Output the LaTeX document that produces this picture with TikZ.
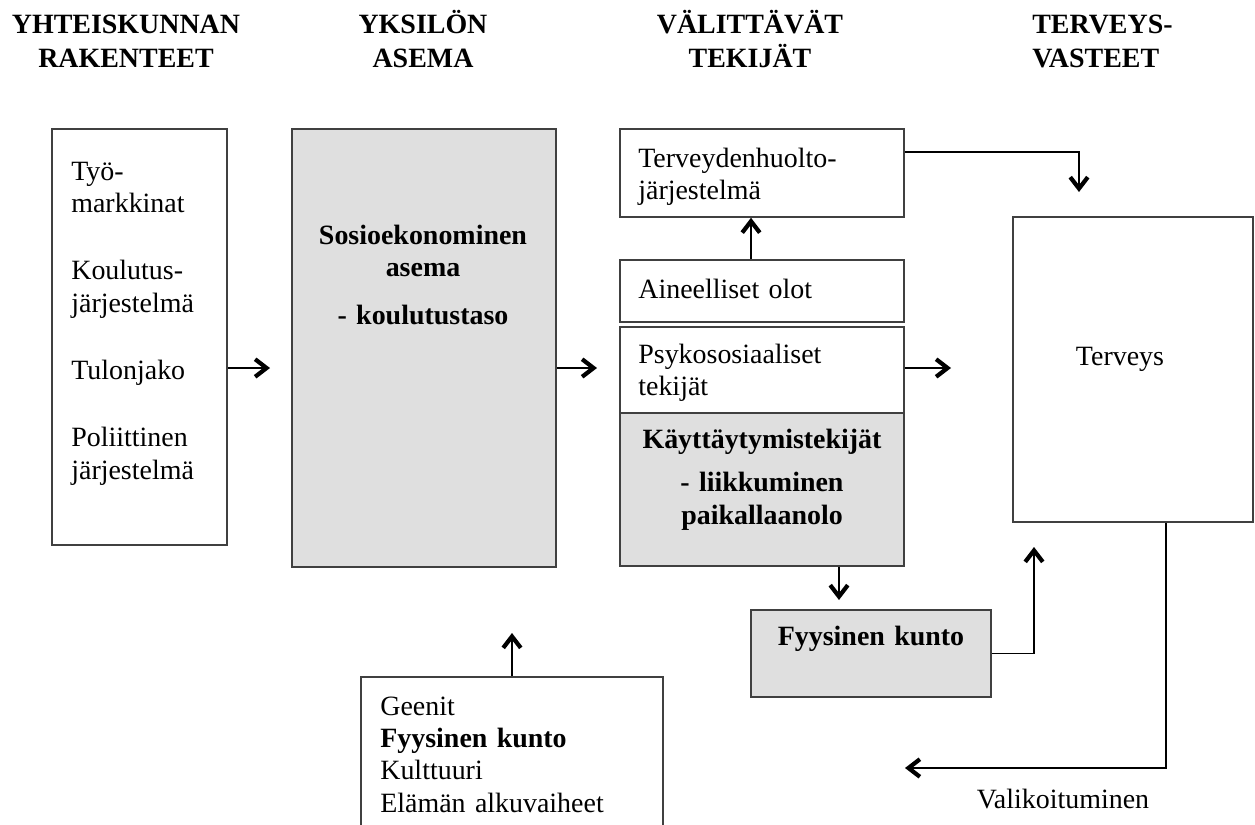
\documentclass[tikz,border=0pt]{standalone}
\usepackage{fontspec}
\setmainfont{Liberation Serif}
\usetikzlibrary{arrows.meta}
\definecolor{laatikko}{RGB}{223,223,223}

\begin{document}
\begin{tikzpicture}[x=0.02cm, y=-0.02cm,
    font=\fontsize{15.9pt}{18.44pt}\selectfont,
    box/.style={draw=black!75, line width=0.9pt, inner sep=0pt},
    harmaa/.style={box, fill=laatikko},
    teksti/.style={inner sep=0pt, text width=7cm, align=left, anchor=base west},
    keski/.style={inner sep=0pt, text width=7cm, align=center, anchor=base},
    vahva/.style={font=\fontsize{15.9pt}{18.44pt}\selectfont\bfseries},
    otsikko/.style={font=\fontsize{15.9pt}{19.85pt}\selectfont\bfseries},
    nuoli/.style={-{Straight Barb[length=6.5pt,width=10pt,line width=2.4pt]}, line width=0.9pt}]

    \useasboundingbox (0,0) rectangle (1255,825);

    % --- Otsikot ---
    \node[keski, otsikko] (o1) at (126,33) {YHTEISKUNNAN\\RAKENTEET};
    \node[keski, otsikko] (o2) at (423,33) {YKSILÖN\\ASEMA};
    \node[keski, otsikko] (o3) at (750,33) {VÄLITTÄVÄT\\TEKIJÄT};
    \node[teksti, otsikko] (o4) at (1032,33) {TERVEYS-\\VASTEET};

    % --- Laatikot ---
    \node[box, minimum width=3.5cm, minimum height=8.32cm] (rakenteet) at (139.5,337) {};
    \node[harmaa, minimum width=5.28cm, minimum height=8.76cm] (asema) at (424,348) {};
    \node[box, minimum width=5.68cm, minimum height=1.76cm] (huolto) at (762,173) {};
    \node[box, minimum width=5.68cm, minimum height=1.24cm] (aine) at (762,291) {};
    \node[box, minimum width=5.68cm, minimum height=1.72cm] (psyko) at (762,370) {};
    \node[harmaa, minimum width=5.68cm, minimum height=3.06cm] (kay) at (762,489.5) {};
    \node[box, minimum width=4.8cm, minimum height=6.1cm] (terveys) at (1133,369.5) {};
    \node[harmaa, minimum width=4.8cm, minimum height=1.74cm] (kunto) at (871,653.5) {};
    \node[box, minimum width=6.04cm, minimum height=3.86cm] (geenit) at (512,773.5) {};

    % --- Tekstit ---
    \node[teksti] (t1) at (71,180) {Työ-\\markkinat\\[0.7cm]Koulutus-\\järjestelmä\\[0.7cm]Tulonjako\\[0.7cm]Poliittinen\\järjestelmä};
    \node[keski, vahva] (t2) at (423,244) {Sosioekonominen\\asema\\[0.31cm]- koulutustaso};
    \node[teksti] (t3) at (638,167) {Terveydenhuolto-\\järjestelmä};
    \node[teksti] (t4) at (638,298) {Aineelliset olot};
    \node[teksti] (t5) at (638,363) {Psykososiaaliset\\tekijät};
    \node[keski, vahva] (t6) at (762,448) {Käyttäytymistekijät\\[0.23cm]- liikkuminen\\paikallaanolo};
    \node[keski] (t7) at (1120,365) {Terveys};
    \node[keski, vahva] (t8) at (871,645) {Fyysinen kunto};
    \node[teksti] (t9) at (380,715) {Geenit\\\textbf{Fyysinen kunto}\\Kulttuuri\\Elämän alkuvaiheet};
    \node[keski] (t10) at (1063,808) {Valikoituminen};

    % --- Nuolet ---
    \coordinate (a1) at (270,368);
    \coordinate (a2) at (597,368);
    \coordinate (a3) at (951,368);
    \coordinate (a5) at (1079,192);
    \coordinate (a6) at (839,600);
    \coordinate (a7) at (1034,547);
    \coordinate (a8) at (1166,768);
    \coordinate (a9) at (905,768);
    \coordinate (a10) at (512,633);

    \draw[nuoli] (rakenteet.east |- a1) -- (a1);
    \draw[nuoli] (asema.east |- a2) -- (a2);
    \draw[nuoli] (psyko.east |- a3) -- (a3);
    \draw[nuoli] ([xshift=-0.22cm]aine.north) -- ([xshift=-0.22cm]huolto.south);
    \draw[nuoli] ([yshift=0.42cm]huolto.east) -| (a5);
    \draw[nuoli] (kay.south -| a6) -- (a6);
    \draw[nuoli] (kunto.east) -| (a7);
    \draw[nuoli] (terveys.south -| a8) |- (a9);
    \draw[nuoli] (geenit.north) -- (a10);

\end{tikzpicture}
\end{document}
